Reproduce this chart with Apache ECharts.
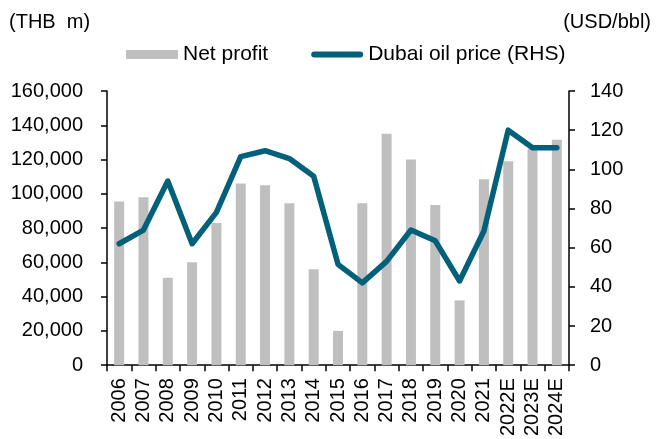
<!DOCTYPE html>
<html>
<head>
<meta charset="utf-8">
<script src="https://cdn.jsdelivr.net/npm/echarts@6/dist/echarts.min.js"></script>
<style>
  html, body { margin: 0; padding: 0; background: #fff; }
  #chart { width: 656px; height: 439px; }
</style>
</head>
<body>
<div id="chart"></div>
<script>
// 数据
const years = ['2006', '2007', '2008', '2009', '2010', '2011', '2012', '2013', '2014', '2015',
               '2016', '2017', '2018', '2019', '2020', '2021', '2022E', '2023E', '2024E'];
const netProfit = [95500, 98000, 51000, 60000, 83000, 106000, 105000, 94500, 56000, 20000,
                   94500, 135000, 120000, 93500, 37800, 108500, 119000, 126500, 131500];
const dubaiPrice = [62, 69, 94, 62, 78, 106.5, 109.5, 105.5, 96.5, 51.5,
                    42, 53, 69, 63.5, 43, 68.5, 120, 111, 111];
const leftTicks = { min: 0, max: 160000, interval: 20000 };
const rightTicks = { min: 0, max: 140, interval: 20 };

const FONT = '"Liberation Sans", Arial, sans-serif';
const chart = echarts.init(document.getElementById('chart'));

// 图例里的粗线（圆头）
const lineIcon = 'path://M3,0 L49,0 A3,3 0 0 1 49,6 L3,6 A3,3 0 0 1 3,0 Z';

const option = {
    animation: false,
    backgroundColor: '#fff',
    textStyle: { fontFamily: FONT, color: '#000' },
    legend: {
        left: 121,
        top: 39,
        itemWidth: 52,
        itemHeight: 9,
        itemGap: 43,
        textStyle: { fontFamily: FONT, fontSize: 21, color: '#000' },
        data: [
            { name: 'Net profit', icon: 'rect' },
            { name: 'Dubai oil price (RHS)', icon: lineIcon }
        ]
    },
    graphic: [
        { type: 'text', left: 9, top: 12, style: { text: '(THB  m)', font: '20px ' + FONT, fill: '#000' } },
        { type: 'text', right: 5, top: 12, style: { text: '(USD/bbl)', font: '20px ' + FONT, fill: '#000' } }
    ],
    grid: { left: 107, right: 87, top: 91, bottom: 73 },
    xAxis: {
        type: 'category',
        data: years,
        boundaryGap: true,
        axisLine: { lineStyle: { color: '#000', width: 1.5 } },
        axisTick: { show: true, length: 6, lineStyle: { color: '#000', width: 1.5 } },
        axisLabel: { rotate: 90, interval: 0, margin: 13, fontSize: 20, color: '#000', fontFamily: FONT }
    },
    yAxis: [
        {
            type: 'value',
            min: leftTicks.min,
            max: leftTicks.max,
            interval: leftTicks.interval,
            splitLine: { show: false },
            axisLine: { show: true, lineStyle: { color: '#000', width: 1.5 } },
            axisTick: { show: true, length: 6, lineStyle: { color: '#000', width: 1.5 } },
            axisLabel: {
                margin: 24, fontSize: 20, color: '#000', fontFamily: FONT,
                formatter: v => v.toLocaleString('en-US')
            }
        },
        {
            type: 'value',
            min: rightTicks.min,
            max: rightTicks.max,
            interval: rightTicks.interval,
            splitLine: { show: false },
            axisLine: { show: true, lineStyle: { color: '#000', width: 1.5 } },
            axisTick: { show: true, length: 6, lineStyle: { color: '#000', width: 1.5 } },
            axisLabel: { margin: 21, fontSize: 20, color: '#000', fontFamily: FONT }
        }
    ],
    series: [
        {
            name: 'Net profit',
            type: 'bar',
            yAxisIndex: 0,
            data: netProfit,
            barWidth: 10,
            itemStyle: { color: '#BFBFBF' }
        },
        {
            name: 'Dubai oil price (RHS)',
            type: 'line',
            yAxisIndex: 1,
            data: dubaiPrice,
            symbol: 'none',
            itemStyle: { color: '#03607A' },
            lineStyle: { color: '#03607A', width: 5.5, cap: 'round', join: 'round' },
            z: 5
        }
    ]
};

chart.setOption(option);
</script>
</body>
</html>
